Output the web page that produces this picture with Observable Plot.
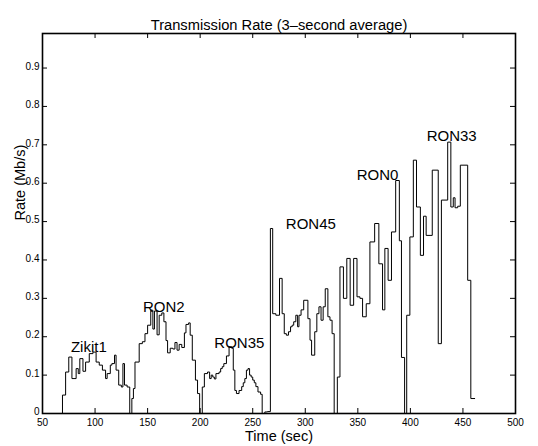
<!DOCTYPE html>
<html><head><meta charset="utf-8">
<script src="https://cdn.jsdelivr.net/npm/d3@7"></script>
<script src="https://cdn.jsdelivr.net/npm/@observablehq/plot@0.6"></script>
<style>body{margin:0;background:#fff}</style>
</head><body><div id="chart"></div>
<script>
const times = [
  67, 69, 72, 75, 78, 82, 84, 85.5, 88.5, 91, 94.5, 98, 101, 104, 107, 110, 111.5, 114.5, 116, 118.5, 120, 122.5, 125, 126.5, 128, 130.5, 133,
  135, 136.5, 138, 142, 145, 147.5, 150, 153, 155, 156.5, 159, 161, 163.5, 165.5, 167.5, 169, 171.5, 174, 176, 178, 180, 182.5, 185, 186.5, 189, 190.5, 192.5, 195.5, 197.5, 199.5,
  202, 204, 207, 209, 210.5, 212, 213.5, 215, 218, 219.5, 221, 222.5, 225, 227.5, 230, 231.5, 233, 234.5, 237, 239.5, 241, 242.5, 244, 245.5, 247, 248.5, 250, 251.5, 253, 255, 257.5, 259, 261.5, 264,
  266.8, 269, 272, 275.5, 278, 280, 282, 284, 286, 287.5, 289, 291, 292.7, 294, 296, 298.5, 302.5, 304.5, 306, 309, 311, 313, 315, 317, 319, 321.5, 323.5, 325.5, 327.5,
  330.5, 333, 336.3, 339.5, 342.7, 346, 349.2, 352, 354.5, 358, 361.5, 366, 370, 373.5, 375.7, 378.8, 382, 386, 389.5, 391.5, 394.5,
  396.5, 399.5, 402.8, 405.8, 409.5, 412.5, 415, 420.8, 426.5, 429.5, 435.5, 438.5, 440.8, 442.5, 445, 447.5, 454.5, 457.5, 461.5
];
const rates = [
  0, 0.048, 0.108, 0.147, 0.091, 0.117, 0.104, 0.143, 0.11, 0.134, 0.156, 0.16, 0.134, 0.126, 0.113, 0.091, 0.104, 0.126, 0.13, 0.152, 0.113, 0.074, 0.069, 0.13, 0.074, 0.069, 0,
  0.039, 0.065, 0.134, 0.182, 0.187, 0.208, 0.23, 0.269, 0.22, 0.267, 0.205, 0.256, 0.262, 0.239, 0.19, 0.158, 0.17, 0.168, 0.185, 0.165, 0.18, 0.172, 0.21, 0.232, 0.236, 0.204, 0.139, 0.087, 0.052, 0,
  0.069, 0.104, 0.108, 0.091, 0.1, 0.095, 0.09, 0.104, 0.108, 0.117, 0.122, 0.13, 0.15, 0.174, 0.17, 0.113, 0.06, 0.052, 0.06, 0.07, 0.08, 0.091, 0.113, 0.117, 0.1, 0.095, 0.087, 0.08, 0.07, 0.056, 0.05, 0, 0.004, 0.005,
  0.482, 0.26, 0.256, 0.352, 0.26, 0.208, 0.204, 0.213, 0.226, 0.23, 0.239, 0.256, 0.226, 0.256, 0.27, 0.295, 0.247, 0.191, 0.152, 0.213, 0.26, 0.278, 0.243, 0.278, 0.325, 0.252, 0.243, 0.208, 0,
  0.095, 0.382, 0.3, 0.404, 0.282, 0.404, 0.304, 0.3, 0.252, 0.286, 0.447, 0.495, 0.39, 0.27, 0.43, 0.347, 0.473, 0.607, 0.45, 0.146, 0,
  0.256, 0.46, 0.66, 0.538, 0.412, 0.514, 0.464, 0.634, 0.182, 0.556, 0.707, 0.538, 0.562, 0.536, 0.54, 0.647, 0.347, 0.039, 0.039
];
const xTicks = [50, 100, 150, 200, 250, 300, 350, 400, 450, 500];
const yTicks = [0, 0.1, 0.2, 0.3, 0.4, 0.5, 0.6, 0.7, 0.8, 0.9];
const yTickLabels = ["0", "0.1", "0.2", "0.3", "0.4", "0.5", "0.6", "0.7", "0.8", "0.9"];
const labelNames = ["Zikit1", "RON2", "RON35", "RON45", "RON0", "RON33"];
const labelTimes = [77, 145.5, 213.5, 281.5, 349, 415.5];
const labelRates = [0.173, 0.278, 0.184, 0.493, 0.62, 0.722];
const titleText = "Transmission Rate (3\u2013second average)";
const xLabel = "Time (sec)";
const yLabel = "Rate (Mb/s)";

const series = times.map((t, i) => ({t, r: rates[i]}));
const labels = labelNames.map((n, i) => ({n, t: labelTimes[i], r: labelRates[i]}));
const font = "Liberation Sans, Arial, Helvetica, sans-serif";

const chart = Plot.plot({
  width: 538,
  height: 446,
  marginLeft: 42,
  marginRight: 23,
  marginTop: 33,
  marginBottom: 33,
  style: {fontFamily: font, background: "#fff", color: "#000", overflow: "visible"},
  x: {domain: [50, 500]},
  y: {domain: [0, 0.99]},
  marks: [
    Plot.line(series, {x: "t", y: "r", curve: "step-after", stroke: "#000", strokeWidth: 1}),
    Plot.ruleX(xTicks.slice(1, -1), {insetTop: 375, stroke: "#000"}),
    Plot.ruleX(xTicks.slice(1, -1), {insetBottom: 375, stroke: "#000"}),
    Plot.ruleY(yTicks.slice(1), {insetRight: 468, stroke: "#000"}),
    Plot.ruleY(yTicks.slice(1), {insetLeft: 468, stroke: "#000"}),
    Plot.frame({stroke: "#000", strokeWidth: 1.6}),
    Plot.axisX({ticks: xTicks, tickSize: 0, tickPadding: 5, fontSize: 10, label: null}),
    Plot.axisY({ticks: yTicks, tickSize: 0, tickPadding: 3, fontSize: 10, label: null, dy: -1.5,
      tickFormat: (d) => yTickLabels[yTicks.indexOf(d)]}),
    Plot.text(labels, {x: "t", y: "r", text: "n", textAnchor: "start", fontSize: 15, fill: "#000"}),
    Plot.text([titleText], {frameAnchor: "top", dy: -14, fontSize: 14.7, fill: "#000"}),
    Plot.text([xLabel], {frameAnchor: "bottom", dy: 27, fontSize: 14.5, fill: "#000"}),
    Plot.text([yLabel], {frameAnchor: "left", dx: -22, dy: -3, rotate: -90, fontSize: 14.5, fill: "#000"})
  ]
});
document.getElementById("chart").appendChild(chart);
</script>
</body></html>
